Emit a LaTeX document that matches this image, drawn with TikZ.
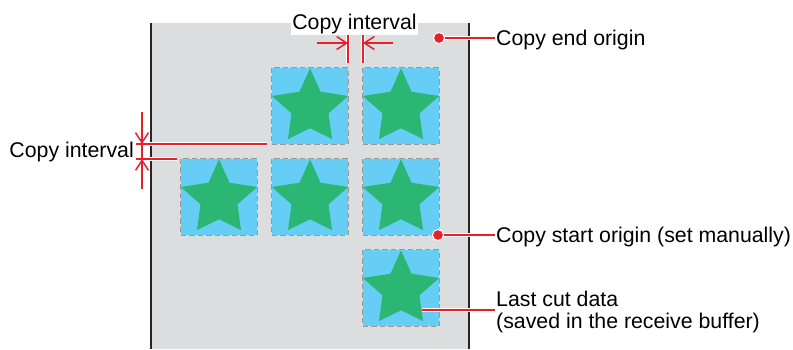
\documentclass[tikz,border=0pt]{standalone}
\usepackage{fontspec}
\setmainfont{Liberation Sans}
\usetikzlibrary{arrows.meta}
\definecolor{bggray}{HTML}{DCDDDE}
\definecolor{tileblue}{HTML}{66CDF5}
\definecolor{stargreen}{HTML}{2BB673}
\definecolor{dimred}{HTML}{E8202A}
\definecolor{edgegray}{HTML}{999999}
\begin{document}
\begin{tikzpicture}[x=1pt,y=-1pt,
  tile/.style={rectangle,minimum width=76pt,minimum height=76pt,inner sep=0pt,fill=tileblue,draw=none},
  tileedge/.style={draw=edgegray,dash pattern=on 5.5pt off 3pt,line width=1.1pt},
  redline/.style={draw=dimred,line width=1.5pt,preaction={draw=white,line width=4pt}},
  redarrow/.style={draw=dimred,line width=1.5pt,-{Straight Barb[length=10pt,width=13pt,line width=1.5pt]}},
  dot/.style={circle,fill=dimred,draw=white,line width=1pt,minimum size=11pt,inner sep=0pt},
  lbl/.style={font=\fontsize{21.3}{22}\selectfont,inner sep=0pt},
  border/.style={draw=black!85,line width=2pt}]
\useasboundingbox (0,0) rectangle (793,349);
% sheet
\fill[bggray] (151,23) rectangle (469,349);
\coordinate (lt) at (151,23); \coordinate (lb) at (151,349);
\coordinate (rt) at (469,23); \coordinate (rb) at (469,349);
\draw[border] (lt) -- (lb);
\draw[border] (rt) -- (rb);
% tiles
\foreach \n/\x/\y in {t12/310/106, t13/401/106, t21/219/197, t22/310/197, t23/401/197, t33/401/288}{
  \node[tile] (\n) at (\x,\y) {};
  \fill[stargreen,shift={(\x,\y+0.8)}] (0,-38.5) -- (10.5,-15.1) -- (38.2,-10.8) -- (18.5,6.5) -- (22,32.2) -- (0,21.5) -- (-22,32.2) -- (-18.5,6.5) -- (-38.2,-10.8) -- (-10.5,-15.1) -- cycle;
  \draw[tileedge] (\n.north west) rectangle (\n.south east);
}
% top copy interval
\node[lbl,fill=white,inner sep=1.5pt] (topci) at (354.5,24) {Copy interval};
\coordinate (ea1) at (348,35); \coordinate (ea2) at (348,63);
\coordinate (eb1) at (363,35); \coordinate (eb2) at (363,63);
\draw[redline] (ea1) -- (ea2);
\draw[redline] (eb1) -- (eb2);
\coordinate (aa0) at (317,43); \coordinate (aa1) at (348,43);
\coordinate (ab0) at (393,43); \coordinate (ab1) at (363,43);
\draw[redarrow] (aa0) -- (aa1);
\draw[redarrow] (ab0) -- (ab1);
% left copy interval
\node[lbl,anchor=east] (leftci) at (134,152) {Copy interval};
\coordinate (h1a) at (136,144); \coordinate (h1b) at (267,144);
\coordinate (h2a) at (136,159); \coordinate (h2b) at (177,159);
\draw[redline] (h1a) -- (h1b);
\draw[redline] (h2a) -- (h2b);
\coordinate (v0) at (142,112); \coordinate (v1) at (142,144);
\coordinate (v2) at (142,159); \coordinate (v3) at (142,189);
\draw[redarrow] (v0) -- (v1);
\draw[redarrow] (v3) -- (v2);
\draw[draw=dimred,line width=1.5pt] (v1) -- (v2);
% copy end origin
\node[lbl,anchor=base west] (endlbl) at (496,45.5) {Copy end origin};
\coordinate (endl) at (495,38);
\draw[redline] (439,38) coordinate (endp) -- (endl);
\node[dot] (enddot) at (endp) {};
% copy start origin
\node[lbl,anchor=base west] (startlbl) at (496,242.5) {Copy start origin (set manually)};
\coordinate (startl) at (495,235);
\draw[redline] (438,235) coordinate (startp) -- (startl);
\node[dot] (startdot) at (startp) {};
% last cut data
\node[lbl,anchor=base west] (last1) at (496,306) {Last cut data};
\node[lbl,anchor=base west] (last2) at (496,328) {(saved in the receive buffer)};
\coordinate (lastp) at (422,310); \coordinate (lastl) at (495,310);
\draw[redline] (lastp) -- (lastl);
\end{tikzpicture}
\end{document}
